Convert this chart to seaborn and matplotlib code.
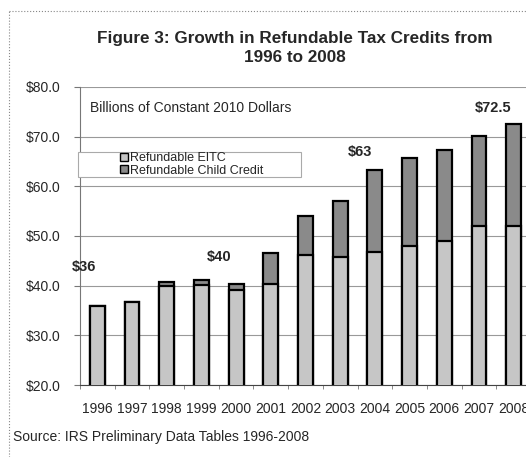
import numpy as np
import pandas as pd
import matplotlib
matplotlib.use("Agg")
from matplotlib import pyplot as plt
from matplotlib.patches import Patch, Rectangle
from matplotlib.lines import Line2D
import seaborn as sns

# data (billions, constant 2010 dollars)
years = [str(y) for y in range(1996, 2009)]
eitc = [36.0, 36.8, 40.0, 40.1, 39.2, 40.3, 46.1, 45.8, 46.7, 48.0, 49.0, 52.1, 52.0]
child = [0.0, 0.0, 0.8, 1.0, 1.1, 6.2, 8.0, 11.2, 16.6, 17.8, 18.3, 18.0, 20.5]
labels = [("1996", "$36"), ("2000", "$40"), ("2004", "$63"), ("2008", "$72.5")]
label_shift = [(-0.38, 6.4), (-0.5, 4.0), (-0.42, 2.3), (-0.58, 1.9)]

df = pd.DataFrame({"year": years, "eitc": eitc, "child": child})
df["total"] = df["eitc"] + df["child"]

sns.set_style("white")
plt.rcParams["font.family"] = ["Liberation Sans", "DejaVu Sans"]

W, H = 526, 457
fig = plt.figure(figsize=(W / 100, H / 100), dpi=100)
ax = fig.add_axes([80 / W, 72 / H, 451 / W, 298 / H])

light = "#c6c6c6"
dark = "#8a8a8a"
sns.barplot(data=df, x="year", y="total", color=dark, edgecolor="black",
            linewidth=1.6, width=0.43, saturation=1, ax=ax, zorder=3)
sns.barplot(data=df, x="year", y="eitc", color=light, edgecolor="black",
            linewidth=1.6, width=0.43, saturation=1, ax=ax, zorder=4)

ax.set_ylim(20, 80)
ax.set_xlim(-0.5, len(years) - 0.5)
ax.set_yticks(np.arange(20, 81, 10))
ax.set_yticklabels([f"${v:.1f}" for v in np.arange(20, 81, 10)], fontsize=10)
ax.set_xticklabels(years, fontsize=10)
ax.set_xlabel("")
ax.set_ylabel("")
ax.yaxis.grid(True, color="#999999", linewidth=0.8, zorder=0)
ax.set_axisbelow(True)
for s in ["top", "right"]:
    ax.spines[s].set_visible(False)
ax.spines["left"].set_color("#777777")
ax.spines["left"].set_linewidth(0.8)
ax.spines["bottom"].set_color("#444444")
ax.spines["bottom"].set_linewidth(0.8)
ax.tick_params(axis="y", left=True, length=4, width=0.8, color="#777777", pad=10)
ax.tick_params(axis="x", bottom=False, pad=9)
ax.set_xticks(np.arange(-0.5, len(years), 1), minor=True)
ax.tick_params(axis="x", which="minor", bottom=True, length=3, width=0.6, color="#777777")

tot = dict(zip(df["year"], df["total"]))
idx = {y: i for i, y in enumerate(years)}
for (yr, txt), (dx, dy) in zip(labels, label_shift):
    ax.text(idx[yr] + dx, tot[yr] + dy, txt, ha="center", va="bottom",
            fontsize=10.5, fontweight="bold", clip_on=False, zorder=5)

# titles and notes
fig.text(295 / W, 1 - 48 / H, "Figure 3: Growth in Refundable Tax Credits from\n1996 to 2008",
         ha="center", va="center", fontsize=12.3, fontweight="bold", linespacing=1.35)
fig.text(90 / W, 1 - 108 / H, "Billions of Constant 2010 Dollars", ha="left", va="center", fontsize=10)
fig.text(13 / W, 1 - 437 / H, "Source: IRS Preliminary Data Tables 1996-2008", ha="left",
         va="center", fontsize=10)

# legend box
fig.add_artist(Rectangle((78 / W, 1 - 177 / H), 223 / W, 25 / H, transform=fig.transFigure,
                         facecolor="white", edgecolor="#aaaaaa", linewidth=0.8, zorder=6))
handles = [Patch(facecolor=light, edgecolor="black", linewidth=1.0),
           Patch(facecolor=dark, edgecolor="black", linewidth=1.0)]
leg = fig.legend(handles, ["Refundable EITC", "Refundable Child Credit"], loc="center",
                 bbox_to_anchor=(192 / W, 1 - 164.5 / H), frameon=False, fontsize=9,
                 handlelength=0.6, handleheight=0.6, handletextpad=0.2, labelspacing=0.05,
                 borderpad=0.1)
leg.set_zorder(7)

# dotted outer border (left and top visible)
fig.add_artist(Line2D([9 / W, 9 / W], [0, 1 - 11 / H], transform=fig.transFigure,
                      color="#888888", linewidth=0.8, linestyle=":"))
fig.add_artist(Line2D([9 / W, 1], [1 - 11 / H, 1 - 11 / H], transform=fig.transFigure,
                      color="#888888", linewidth=0.8, linestyle=":"))

fig.savefig("out.png", dpi=100)
